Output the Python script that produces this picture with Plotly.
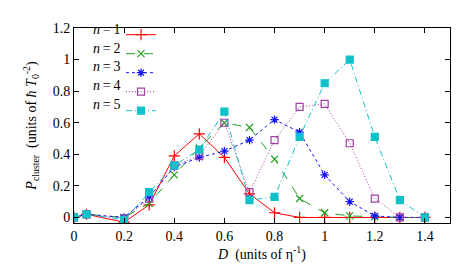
import plotly.graph_objects as go

D = [0, 0.05, 0.2, 0.3, 0.4, 0.5, 0.6, 0.7, 0.8, 0.9, 1.0, 1.1, 1.2, 1.3, 1.4]
p_n1 = [0, 0.02, -0.03, 0.08, 0.39, 0.53, 0.38, 0.15, 0.03, 0.0, 0.0, 0.0, 0.0, 0.0, 0.0]
p_n2 = [0, 0.02, 0.0, 0.09, 0.27, 0.44, 0.60, 0.57, 0.37, 0.12, 0.03, 0.01, 0.005, 0.0, 0.0]
p_n3 = [0, 0.02, 0.0, 0.13, 0.32, 0.38, 0.42, 0.49, 0.62, 0.54, 0.27, 0.10, 0.01, 0.0, 0.0]
p_n4 = [0, 0.02, -0.005, 0.12, 0.33, 0.39, 0.60, 0.16, 0.49, 0.70, 0.72, 0.47, 0.12, 0.0, 0.0]
p_n5 = [0, 0.02, -0.015, 0.16, 0.33, 0.43, 0.67, 0.11, 0.13, 0.51, 0.85, 1.0, 0.51, 0.11, 0.0]

labels = ["<i>n</i>\u2009=\u20091", "<i>n</i>\u2009=\u20092", "<i>n</i>\u2009=\u20093",
          "<i>n</i>\u2009=\u20094", "<i>n</i>\u2009=\u20095"]
series = [p_n1, p_n2, p_n3, p_n4, p_n5]
colors = ["#FF0000", "#22A022", "#1010FF", "#A040A0", "#10C0C8"]
dashes = ["solid", "dash", "dot", "1px,2px", "6px,3px,1px,3px"]
symbols = ["cross-thin-open", "x-thin-open", "asterisk-open", "square-open", "square"]
msizes = [8, 7, 7, 7, 7]

FONT = "Liberation Serif"
fig = go.Figure()
for i, (ys, lab) in enumerate(zip(series, labels)):
    fig.add_trace(go.Scatter(
        x=D, y=ys, mode="lines+markers", name=" ",
        line=dict(color=colors[i], width=1, dash=dashes[i]),
        marker=dict(symbol=symbols[i], size=msizes[i], color=colors[i],
                    line=dict(color=colors[i], width=1.2)),
    ))

# legend labels (gnuplot style: label to the left of the sample)
LEG_TOP = 1.04
for i, lab in enumerate(labels):
    fig.add_annotation(xref="paper", yref="paper", x=0.13, y=0.99 - i * 0.095,
                       text=lab, showarrow=False, xanchor="right", yanchor="middle",
                       font=dict(family=FONT, size=14, color="black"))

axis_common = dict(showline=True, linecolor="black", linewidth=1, mirror="allticks",
                   ticks="inside", ticklen=5, tickcolor="black", showgrid=False,
                   zeroline=False, tickfont=dict(family=FONT, size=14, color="black"))
fig.update_xaxes(range=[0, 1.5], tickvals=[0, 0.2, 0.4, 0.6, 0.8, 1, 1.2, 1.4],
                 title=dict(text="<i>D</i>  (units of η<sup>-1</sup>)",
                            font=dict(family=FONT, size=14, color="black"), standoff=4),
                 **axis_common)
fig.update_yaxes(range=[-0.035, 1.2], tickvals=[0, 0.2, 0.4, 0.6, 0.8, 1, 1.2],
                 title=dict(text="<i>P</i><sub>cluster</sub>  (units of <i>ħ T</i><sub>0</sub><sup>-2</sup>)",
                            font=dict(family=FONT, size=14, color="black"), standoff=12),
                 **axis_common)
fig.update_layout(
    width=472, height=272, margin=dict(l=66, r=30, t=15, b=57),
    plot_bgcolor="white", paper_bgcolor="white",
    font=dict(family=FONT, size=14, color="black"),
    showlegend=True,
    legend=dict(x=0.125, y=LEG_TOP, xanchor="left", yanchor="top", bgcolor="rgba(0,0,0,0)",
                font=dict(family=FONT, size=9), itemwidth=30, tracegroupgap=0,
                borderwidth=0),
)
fig.write_html("out.html")
